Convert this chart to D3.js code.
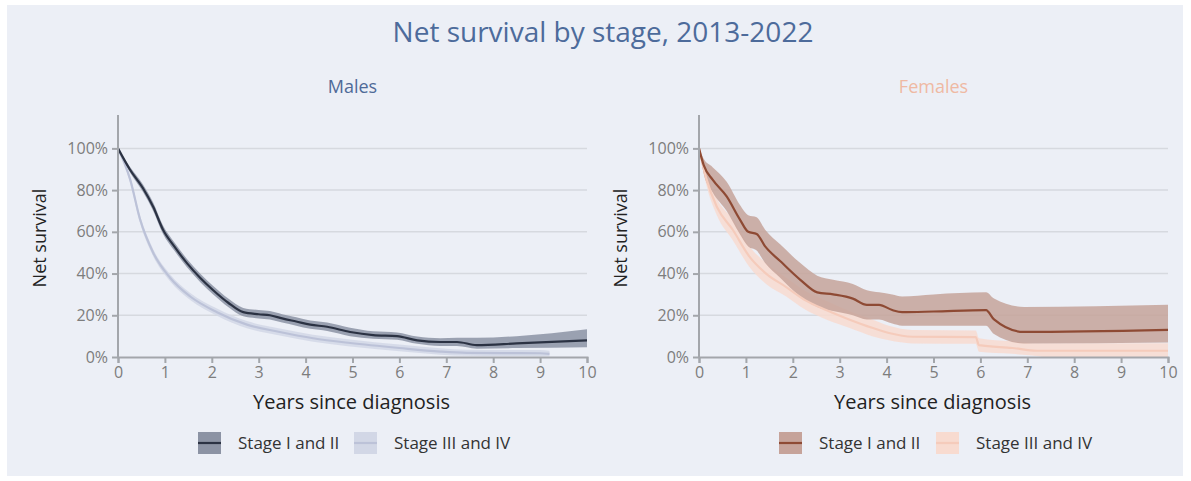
<!DOCTYPE html>
<html>
<head>
<meta charset="utf-8">
<script src="https://cdn.jsdelivr.net/npm/d3@7"></script>
<style>
  body { margin: 0; background: #fff; font-family: "Open Sans", sans-serif; }
  .tick text { fill: #7d7d7d; font-size: 16px; font-family: "Open Sans", sans-serif; }
  .domain, .tick line { stroke: #a3a6ab; stroke-width: 2px; }
</style>
</head>
<body>
<div id="chart"></div>
<script>
// Data: years since diagnosis, estimate, lower and upper bounds
const maleEarlyT  = [0, 0.25, 0.53, 0.75, 0.96, 1.2, 1.47, 1.75, 2.03, 2.35, 2.67, 3.0, 3.24, 3.5, 3.8, 4.1, 4.46, 4.95, 5.44, 5.95, 6.38, 6.87, 7.23, 7.65, 8.5, 10];
const maleEarlyEst = [1, 0.9, 0.81, 0.72, 0.61, 0.53, 0.45, 0.38, 0.32, 0.26, 0.215, 0.205, 0.2, 0.185, 0.17, 0.155, 0.145, 0.12, 0.105, 0.1, 0.08, 0.072, 0.072, 0.057, 0.065, 0.08];
const maleEarlyLo  = [1, 0.887, 0.792, 0.7, 0.59, 0.51, 0.43, 0.36, 0.3, 0.24, 0.195, 0.185, 0.18, 0.165, 0.15, 0.135, 0.125, 0.1, 0.088, 0.083, 0.063, 0.053, 0.053, 0.04, 0.043, 0.047];
const maleEarlyHi  = [1, 0.913, 0.828, 0.74, 0.63, 0.55, 0.47, 0.4, 0.34, 0.28, 0.235, 0.225, 0.22, 0.205, 0.19, 0.175, 0.165, 0.14, 0.123, 0.118, 0.098, 0.09, 0.092, 0.092, 0.1, 0.133];

const maleLateT   = [0, 0.26, 0.47, 0.75, 1.11, 1.54, 2.11, 2.75, 3.45, 4.16, 4.95, 6.0, 6.87, 7.44, 8.2, 9.0, 9.2];
const maleLateEst = [1, 0.85, 0.66, 0.5, 0.38, 0.29, 0.215, 0.155, 0.12, 0.09, 0.067, 0.043, 0.026, 0.02, 0.019, 0.018, 0.015];
const maleLateLo  = [1, 0.835, 0.642, 0.483, 0.363, 0.273, 0.198, 0.138, 0.103, 0.073, 0.05, 0.027, 0.011, 0.006, 0.005, 0.004, 0.003];
const maleLateHi  = [1, 0.865, 0.678, 0.517, 0.397, 0.307, 0.232, 0.172, 0.137, 0.107, 0.084, 0.06, 0.042, 0.035, 0.034, 0.033, 0.03];

const femaleEarlyT   = [0, 0.1, 0.29, 0.59, 0.87, 1.05, 1.23, 1.41, 1.73, 2.16, 2.52, 2.86, 3.28, 3.58, 3.84, 4.12, 4.33, 5.0, 6.12, 6.29, 6.93, 10];
const femaleEarlyEst = [1, 0.92, 0.85, 0.77, 0.66, 0.6, 0.59, 0.53, 0.46, 0.37, 0.31, 0.3, 0.28, 0.25, 0.25, 0.225, 0.215, 0.218, 0.225, 0.18, 0.12, 0.13];
const femaleEarlyLo  = [1, 0.88, 0.79, 0.7, 0.59, 0.53, 0.51, 0.45, 0.38, 0.29, 0.24, 0.22, 0.2, 0.18, 0.18, 0.16, 0.15, 0.15, 0.15, 0.11, 0.065, 0.07];
const femaleEarlyHi  = [1, 0.95, 0.91, 0.84, 0.73, 0.68, 0.67, 0.61, 0.54, 0.45, 0.39, 0.37, 0.35, 0.32, 0.31, 0.3, 0.29, 0.3, 0.31, 0.28, 0.24, 0.25];

const femaleLateT   = [0, 0.15, 0.38, 0.72, 1.08, 1.43, 1.86, 2.28, 2.71, 3.2, 3.69, 4.05, 4.55, 5.9, 5.97, 6.68, 7.2, 7.4, 10];
const femaleLateEst = [1, 0.86, 0.72, 0.61, 0.48, 0.4, 0.335, 0.27, 0.225, 0.18, 0.14, 0.115, 0.097, 0.095, 0.057, 0.043, 0.03, 0.03, 0.03];
const femaleLateLo  = [1, 0.83, 0.68, 0.56, 0.43, 0.35, 0.29, 0.225, 0.18, 0.14, 0.1, 0.08, 0.065, 0.063, 0.025, 0.015, 0.005, 0.0, 0.0];
const femaleLateHi  = [1, 0.89, 0.76, 0.66, 0.53, 0.45, 0.38, 0.315, 0.27, 0.22, 0.18, 0.15, 0.13, 0.127, 0.09, 0.075, 0.066, 0.066, 0.066];

const yTicks = [0, 0.2, 0.4, 0.6, 0.8, 1.0];
const xTicks = [0, 1, 2, 3, 4, 5, 6, 7, 8, 9, 10];
const legendLabels = ["Stage I and II", "Stage III and IV"];

const W = 1191, H = 481;
const svg = d3.select("#chart").append("svg").attr("width", W).attr("height", H);

svg.append("rect").attr("x", 7).attr("y", 5).attr("width", 1176).attr("height", 471)
    .attr("fill", "#eceff6");

svg.append("text")
    .attr("x", 603).attr("y", 42)
    .attr("text-anchor", "middle")
    .style("font-size", "28px")
    .style("fill", "#4d6b9b")
    .text("Net survival by stage, 2013-2022");

function build(series) {
    return series.t.map((t, i) => ({ t: t, v: series.est[i], lo: series.lo[i], hi: series.hi[i] }));
}

const panels = [
    {
        title: "Males", titleColor: "#4f6a98", left: 118,
        series: [
            { t: maleLateT, est: maleLateEst, lo: maleLateLo, hi: maleLateHi, band: "#d2d7e6", line: "#bcc2d8" },
            { t: maleEarlyT, est: maleEarlyEst, lo: maleEarlyLo, hi: maleEarlyHi, band: "#8c93a4", line: "#2b3243" }
        ],
        legendX: [198, 354]
    },
    {
        title: "Females", titleColor: "#efb9a3", left: 699,
        series: [
            { t: femaleLateT, est: femaleLateEst, lo: femaleLateLo, hi: femaleLateHi, band: "#f8dbd0", line: "#f5cbbb" },
            { t: femaleEarlyT, est: femaleEarlyEst, lo: femaleEarlyLo, hi: femaleEarlyHi, band: "#c6a39a", line: "#8e4a34" }
        ],
        legendX: [779, 936]
    }
];

const plotW = 469;
const y = d3.scaleLinear().domain([0, 1.16]).range([357, 115]);

panels.forEach(p => {
    const x = d3.scaleLinear().domain([0, 10]).range([p.left, p.left + plotW]);
    const g = svg.append("g");

    g.append("text")
        .attr("x", p.left + plotW / 2).attr("y", 93)
        .attr("text-anchor", "middle")
        .style("font-size", "18px")
        .style("fill", p.titleColor)
        .text(p.title);

    // grid
    g.selectAll(".grid")
        .data(yTicks.slice(1))
        .enter().append("line")
        .attr("x1", p.left).attr("x2", p.left + plotW)
        .attr("y1", d => y(d)).attr("y2", d => y(d))
        .attr("stroke", "#d6d9df").attr("stroke-width", 1.5);

    const area = d3.area().x(d => x(d.t)).y0(d => y(d.lo)).y1(d => y(d.hi)).curve(d3.curveMonotoneX);
    const line = d3.line().x(d => x(d.t)).y(d => y(d.v)).curve(d3.curveMonotoneX);

    p.series.forEach(s => {
        const pts = build(s);
        g.append("path").attr("d", area(pts)).attr("fill", s.band).attr("opacity", 0.85);
    });
    p.series.forEach(s => {
        const pts = build(s);
        g.append("path").attr("d", line(pts)).attr("fill", "none")
            .attr("stroke", s.line).attr("stroke-width", 2.2);
    });

    g.append("g")
        .attr("transform", "translate(0,357)")
        .call(d3.axisBottom(x).tickValues(xTicks).tickSize(6).tickPadding(4).tickFormat(d3.format("d")));

    const yAxis = g.append("g")
        .attr("transform", `translate(${p.left},0)`)
        .call(d3.axisLeft(y).tickValues(yTicks).tickSize(6).tickPadding(4).tickFormat(d3.format(".0%")));
    yAxis.select(".domain").attr("d", `M0,115V357`);

    g.append("text")
        .attr("transform", `translate(${p.left - 72},${238}) rotate(-90)`)
        .attr("text-anchor", "middle")
        .style("font-size", "18px").style("fill", "#222")
        .text("Net survival");

    g.append("text")
        .attr("x", p.left + plotW / 2 - 1).attr("y", 409)
        .attr("text-anchor", "middle")
        .style("font-size", "20px").style("fill", "#222")
        .text("Years since diagnosis");

    // legend
    const order = [p.series[1], p.series[0]];
    order.forEach((s, i) => {
        const lx = p.legendX[i];
        g.append("rect").attr("x", lx).attr("y", 432).attr("width", 23).attr("height", 22)
            .attr("fill", s.band);
        g.append("line").attr("x1", lx).attr("x2", lx + 23).attr("y1", 443).attr("y2", 443)
            .attr("stroke", s.line).attr("stroke-width", 2.2);
        g.append("text").attr("x", lx + 40).attr("y", 449)
            .style("font-size", "17px").style("fill", "#333")
            .text(legendLabels[i]);
    });
});
</script>
</body>
</html>
